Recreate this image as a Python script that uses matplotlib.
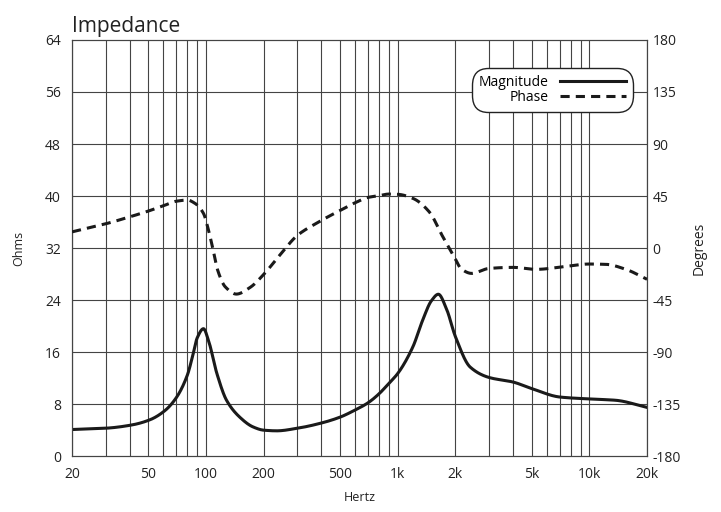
import numpy as np
import matplotlib.pyplot as plt

# impedance magnitude (ohms)
mag_freq = [20, 30, 41, 51, 61, 70, 80, 85, 90, 97, 103, 114, 128, 150, 176,
            200, 234, 300, 400, 500, 600, 700, 800, 900, 1000, 1200, 1350,
            1500, 1630, 1800, 2000, 2390, 3000, 4000, 5000, 7000, 10000,
            13700, 20000]
mag_ohms = [4.1, 4.3, 4.8, 5.6, 7.0, 9.0, 12.5, 15.3, 18.2, 19.6, 17.8, 12.7,
            8.6, 6.0, 4.5, 4.0, 3.9, 4.3, 5.1, 6.0, 7.1, 8.2, 9.6, 11.2, 12.7,
            16.8, 20.9, 23.9, 24.9, 22.6, 18.4, 13.7, 12.1, 11.4, 10.4, 9.1,
            8.8, 8.6, 7.5]

# impedance phase (degrees)
ph_freq = [20, 30, 40, 50, 60, 70, 80, 87, 97, 103, 109, 115, 126, 144, 170,
           200, 243, 300, 380, 500, 600, 700, 800, 900, 1000, 1200, 1460,
           1720, 1950, 2160, 2430, 3000, 4000, 5300, 7300, 10000, 12250,
           15500, 20000]
ph_deg = [14, 21, 27, 32, 36.6, 40.5, 41.5, 39, 30, 15.6, -1.7, -19, -33.5,
          -39.8, -34, -22.8, -6, 11, 21.8, 32.5, 39.2, 43.8, 45.3, 46.7, 46.5,
          43, 31.4, 9.8, -6, -18.4, -21.9, -17.6, -16.7, -18.4, -16.2, -13.8,
          -14.1, -18.4, -27]

xticks = [20, 50, 100, 200, 500, 1000, 2000, 5000, 10000, 20000]
xticklabels = ["20", "50", "100", "200", "500", "1k", "2k", "5k", "10k", "20k"]
grid_freqs = [20, 30, 40, 50, 60, 70, 80, 90, 100, 200, 300, 400, 500, 600,
              700, 800, 900, 1000, 2000, 3000, 4000, 5000, 6000, 7000, 8000,
              9000, 10000, 20000]


def smooth_log(fx, fy, per_seg=30):
    # monotone cubic (Fritsch-Carlson) through the points, on log frequency
    x = np.log10(np.asarray(fx, float))
    y = np.asarray(fy, float)
    h = np.diff(x)
    d = np.diff(y) / h
    m = np.zeros_like(y)
    m[0], m[-1] = d[0], d[-1]
    for i in range(1, len(y) - 1):
        if d[i - 1] * d[i] > 0:
            w1 = 2 * h[i] + h[i - 1]
            w2 = h[i] + 2 * h[i - 1]
            m[i] = (w1 + w2) / (w1 / d[i - 1] + w2 / d[i])
    xs, ys = [], []
    for i in range(len(h)):
        t = np.linspace(0, 1, per_seg, endpoint=False)
        h00 = 2 * t**3 - 3 * t**2 + 1
        h10 = t**3 - 2 * t**2 + t
        h01 = -2 * t**3 + 3 * t**2
        h11 = t**3 - t**2
        xs.append(x[i] + t * h[i])
        ys.append(h00 * y[i] + h10 * h[i] * m[i] + h01 * y[i + 1]
                  + h11 * h[i] * m[i + 1])
    xs.append([x[-1]])
    ys.append([y[-1]])
    return 10 ** np.concatenate(xs), np.concatenate(ys)


plt.rcParams['font.family'] = ['Open Sans', 'DejaVu Sans']
plt.rcParams['axes.unicode_minus'] = False

fig = plt.figure(figsize=(7.21, 5.12), dpi=100)
ax = fig.add_axes([0.0999, 0.109, 0.7975, 0.813])
ax2 = ax.twinx()

ax.set_xscale("log")
ax.set_xlim(20, 20000)
ax.set_ylim(0, 64)
ax.set_yticks(np.arange(0, 65, 8))
ax2.set_ylim(-180, 180)
ax2.set_yticks(np.arange(-180, 181, 45))

for f in grid_freqs:
    ax.axvline(f, color="#444444", linewidth=0.8, zorder=1)
for v in range(8, 64, 8):
    ax.axhline(v, color="#444444", linewidth=0.8, zorder=1)

mx, my = smooth_log(mag_freq, mag_ohms)
px, py = smooth_log(ph_freq, ph_deg)
l1, = ax.plot(mx, my, color="#1a1a1a", linewidth=2.2, zorder=3,
              label="Magnitude")
l2, = ax2.plot(px, py, color="#1a1a1a", linewidth=2.2, dashes=(3, 2),
               zorder=3, label="Phase")

ax.set_xticks(xticks)
ax.set_xticklabels(xticklabels)
ax.xaxis.set_minor_locator(plt.NullLocator())
ax.tick_params(length=0, labelsize=10, colors="#222222", pad=8)
ax2.tick_params(length=0, labelsize=10, colors="#222222", pad=4)

for a in (ax, ax2):
    for s in a.spines.values():
        s.set_color("#444444")
        s.set_linewidth(0.8)

ax.set_xlabel("Hertz", fontsize=9, color="#222222", labelpad=6)
ax.set_ylabel("Ohms", fontsize=9, color="#222222", labelpad=14)
ax2.set_ylabel("Degrees", fontsize=10, color="#222222", labelpad=8)
ax.set_title("Impedance", loc="left", fontsize=15, color="#222222", pad=6)

leg = ax.legend([l1, l2], ["Magnitude", "Phase"], loc="upper right",
                bbox_to_anchor=(0.975, 0.93), markerfirst=False, fontsize=10,
                frameon=True, fancybox=True, handlelength=4.8,
                handletextpad=0.8, labelspacing=-0.05, borderpad=0.25,
                borderaxespad=0.2)
frame = leg.get_frame()
frame.set_edgecolor("#222222")
frame.set_linewidth(1.0)
frame.set_alpha(1)
frame.set_boxstyle("round,pad=0.25,rounding_size=1.2")
leg.set_zorder(5)

fig.savefig("out.png", dpi=100)
